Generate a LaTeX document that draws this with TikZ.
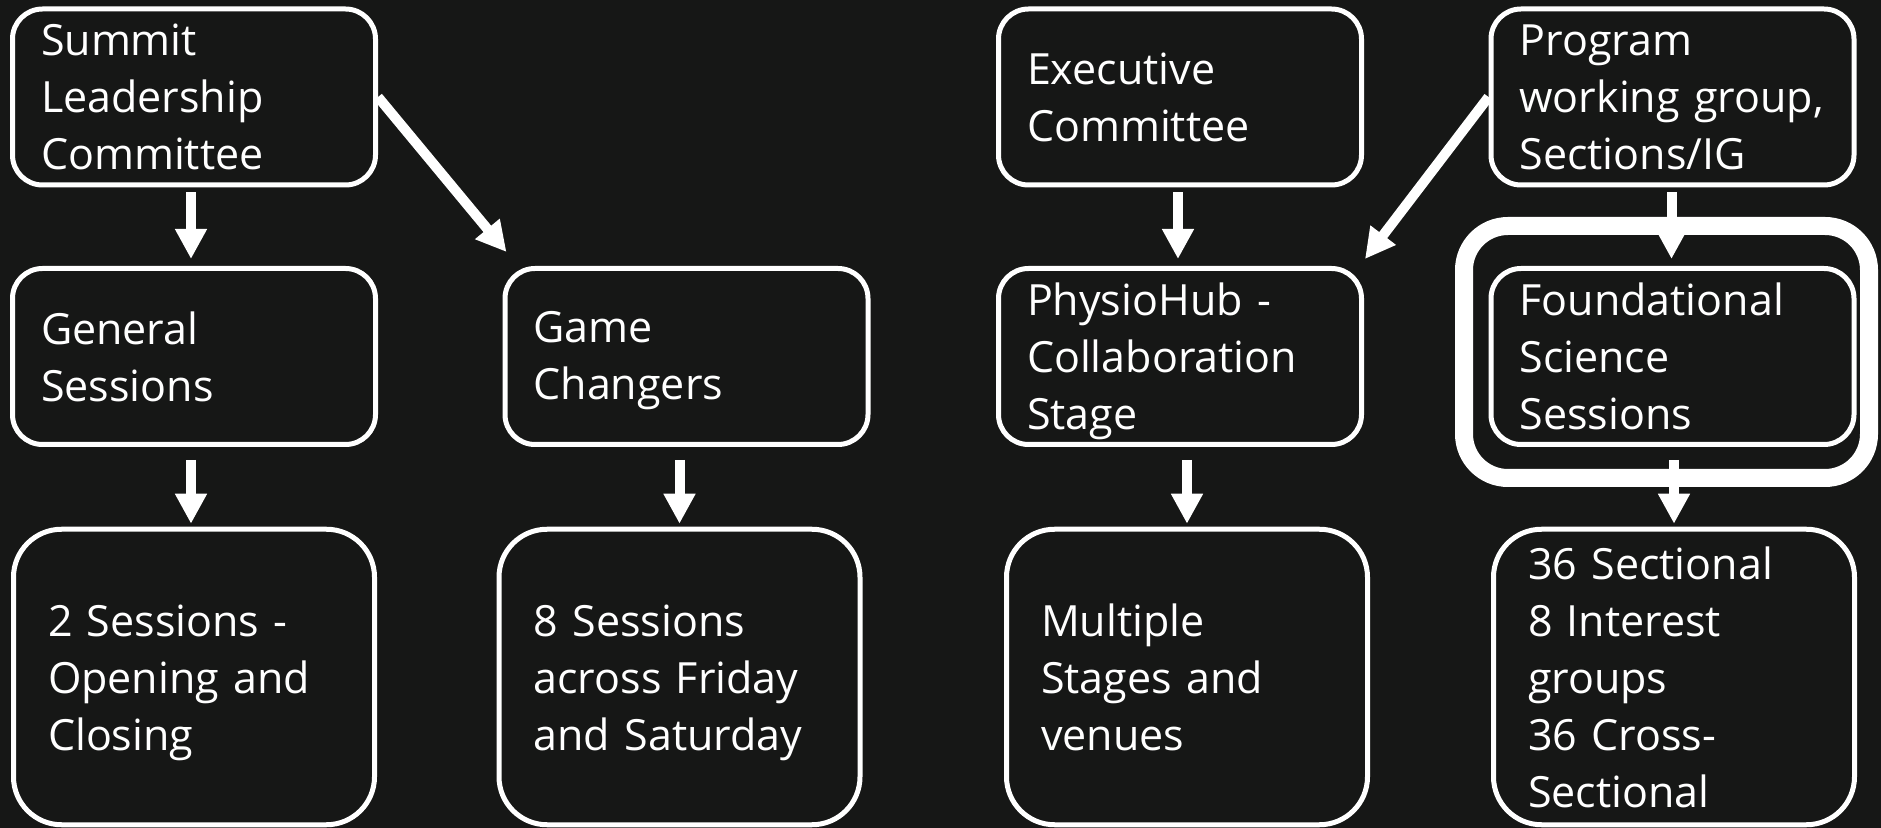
\documentclass[tikz,border=0pt]{standalone}
\usepackage{fontspec}
\setmainfont{Open Sans}
\usetikzlibrary{arrows.meta}
\definecolor{bg}{RGB}{22,23,22}
\newcommand{\lift}[1]{\rule{0pt}{#1}}
\begin{document}
\begin{tikzpicture}[x=0.5pt,y=-0.5pt,
  box/.style={draw=white, line width=2.5pt, fill=bg, rounded corners=15pt,
    text=white, align=left, inner sep=0pt,
    font=\fontsize{21.5}{28.5}\selectfont},
  upper/.style={box, minimum width=181.5pt, minimum height=88pt, text width=153pt},
  lower/.style={box, rounded corners=24pt, minimum width=180.5pt, minimum height=147.75pt, text width=146pt},
  arr/.style={draw=white, line width=5pt, -{Triangle[width=15pt,length=15pt]}},
  arrtop/.style={arr, shorten <=2.5pt, shorten >=3.5pt},
  arrbot/.style={arr, shorten <=6.5pt, shorten >=1.5pt},
  highlight/.style={draw=white, line width=9pt, rounded corners=22pt}
]
\fill[bg] (0,0) rectangle (1881,828);
\useasboundingbox (0,0) rectangle (1881,828);

% highlight frame
\draw[highlight] (1464,226) rectangle (1869,478);

% row 1
\node[upper] (slc)  at (194,97)    {Summit\\Leadership\\Committee};
\node[upper] (exec) at (1180,97)   {Executive\\Committee};
\node[upper] (prog) at (1672.5,97) {Program\\working~group,\\Sections/IG};

% row 2
\node[upper] (gen)   at (194,356.5)    {General\\Sessions};
\node[upper] (gc)    at (686.5,356.5)  {\lift{20pt}Game\\Changers};
\node[upper] (phys)  at (1180,356.5)   {\lift{21pt}PhysioHub~-\\Collaboration\\Stage};
\node[upper] (found) at (1672.5,356.5) {Foundational\\Science\\Sessions};

% row 3
\node[lower] (s2)   at (194,677)    {\lift{22pt}2~Sessions~-\\Opening~and\\Closing};
\node[lower] (s8)   at (679.5,677)  {\lift{22pt}8~Sessions\\across~Friday\\and~Saturday};
\node[lower] (mult) at (1187,677)   {Multiple\\Stages~and\\venues};
\node[lower] (sect) at (1674,677)   {36~Sectional\\8~Interest\\groups\\36~Cross-\\Sectional};

% connectors
\draw[arrtop] ([xshift=-1.5pt]slc.south) -- ([xshift=-1.5pt]gen.north);
\draw[arr, shorten >=0pt] (slc.east) -- ([shift={(2pt,7pt)}]gc.north west);
\draw[arrbot] ([xshift=-1.5pt]gen.south) -- ([xshift=-1.5pt]s2.north);
\draw[arrbot] (gc.south -| s8.north) -- (s8.north);
\draw[arrtop] ([xshift=-1pt]exec.south) -- ([xshift=-1pt]phys.north);
\draw[arr, shorten >=0pt] (prog.west) -- ([shift={(0.5pt,3.5pt)}]phys.north east);
\draw[arrtop] ([xshift=-0.5pt]prog.south) -- ([xshift=-0.5pt]found.north);
\draw[arrbot] (phys.south -| mult.north) -- (mult.north);
\draw[arrbot] (found.south -| sect.north) -- (sect.north);
\end{tikzpicture}
\end{document}
